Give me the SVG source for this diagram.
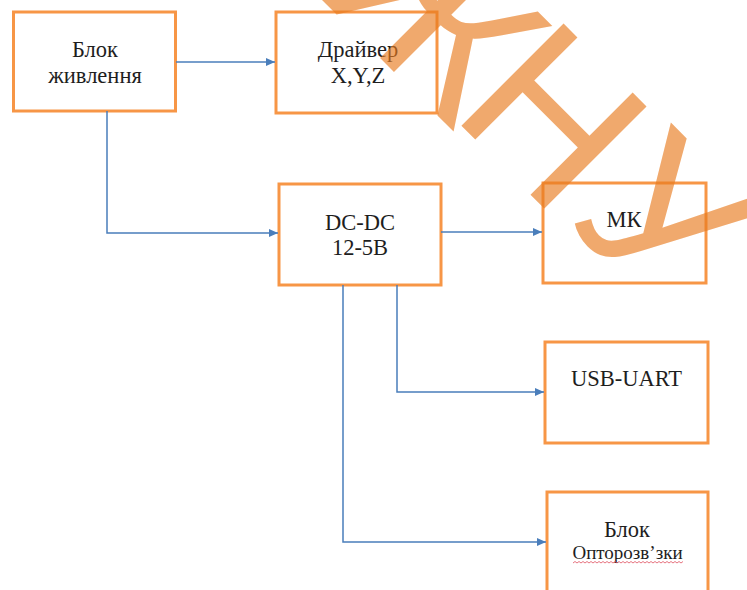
<svg xmlns="http://www.w3.org/2000/svg" width="747" height="590" viewBox="0 0 747 590">
<style>
.box{fill:#fff;stroke:#F79646;stroke-width:3}
.t{font-family:"Liberation Serif","Times New Roman","DejaVu Serif",serif;font-size:22.5px;fill:#1e1e1e;text-anchor:middle}
.s{font-size:19px}
.c{fill:none;stroke:#4A7EBB;stroke-width:1.5}
.wm{font-family:"Liberation Sans",Arial,sans-serif;font-size:210px;fill:#E87B1E;fill-opacity:0.65;text-anchor:middle}
</style>
<defs>
<marker id="ah" markerUnits="userSpaceOnUse" markerWidth="9" markerHeight="8" refX="9" refY="4" orient="auto">
<path d="M0,0 L9,4 L0,8 z" fill="#4A7EBB"/>
</marker>
</defs>
<rect width="747" height="590" fill="#fff"/>
<g id="node-power"><rect class="box" x="13.5" y="12" width="162" height="99"/><text class="t" x="95" y="57">Блок</text><text class="t" x="95" y="83">живлення</text></g>
<g id="node-driver"><rect class="box" x="276" y="12" width="161" height="101"/><text class="t" x="358" y="57">Драйвер</text><text class="t" x="358" y="83">X,Y,Z</text></g>
<g id="node-dcdc"><rect class="box" x="279" y="184" width="162" height="101"/><text class="t" x="360" y="230">DC-DC</text><text class="t" x="360" y="255">12-5В</text></g>
<g id="node-mk"><rect class="box" x="543" y="183" width="163" height="100"/><text class="t" x="624" y="227">МК</text></g>
<g id="node-usb"><rect class="box" x="545" y="342" width="163" height="101"/><text class="t" x="626.5" y="386">USB-UART</text></g>
<g id="node-opto"><rect class="box" x="547" y="492" width="161" height="110"/><text class="t" x="627" y="537">Блок</text><text class="t s" x="627.5" y="559">Опторозв’зки</text><path d="M573,563 l2,-1.5 l2,1.5 l2,-1.5 l2,1.5 l2,-1.5 l2,1.5 l2,-1.5 l2,1.5 l2,-1.5 l2,1.5 l2,-1.5 l2,1.5 l2,-1.5 l2,1.5 l2,-1.5 l2,1.5 l2,-1.5 l2,1.5 l2,-1.5 l2,1.5 l2,-1.5 l2,1.5 l2,-1.5 l2,1.5 l2,-1.5 l2,1.5 l2,-1.5 l2,1.5 l2,-1.5 l2,1.5 l2,-1.5 l2,1.5 l2,-1.5 l2,1.5 l2,-1.5 l2,1.5 l2,-1.5 l2,1.5 l2,-1.5 l2,1.5 l2,-1.5 l2,1.5 l2,-1.5 l2,1.5 l2,-1.5 l2,1.5 l2,-1.5 l2,1.5 l2,-1.5 l2,1.5 l2,-1.5 l2,1.5 l2,-1.5 l2,1.5 l2,-1.5" fill="none" stroke="#E05060" stroke-width="0.8"/></g>
<g id="connectors">
<path class="c" d="M176,62 H275" marker-end="url(#ah)"/>
<path class="c" d="M107,111 V233 H278" marker-end="url(#ah)"/>
<path class="c" d="M441,232 H542" marker-end="url(#ah)"/>
<path class="c" d="M397,285 V392 H544" marker-end="url(#ah)"/>
<path class="c" d="M343,285 V542 H546" marker-end="url(#ah)"/>
</g>
<g id="watermark">
<text class="wm" transform="translate(440,12) rotate(45)" x="0" y="75">Ж</text>
<text class="wm" transform="translate(556,114) rotate(45)" x="0" y="75">Н</text>
<text class="wm" transform="translate(665,215) rotate(45)" x="0" y="75">У</text>
</g>
</svg>
